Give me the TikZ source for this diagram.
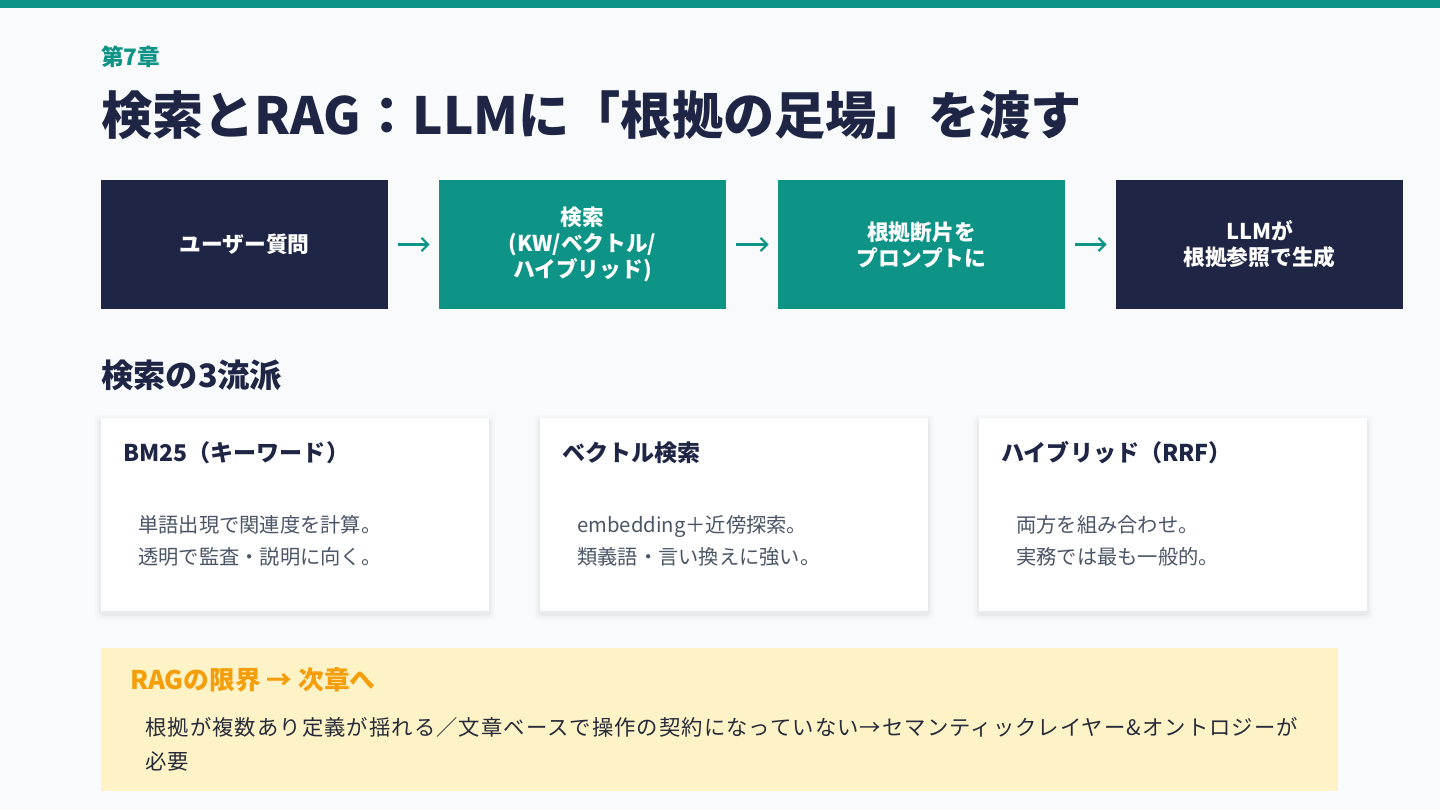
\documentclass[tikz,border=0pt]{standalone}
\usepackage{fontspec}
\setmainfont{Noto Sans CJK JP}
\newfontfamily\spacedjp{Noto Sans CJK JP}[LetterSpace=5]
\usetikzlibrary{arrows.meta}
\definecolor{bgc}{HTML}{F8FAFC}
\definecolor{tealc}{HTML}{0E9486}
\definecolor{navyc}{HTML}{1F2645}
\definecolor{bodyc}{HTML}{4B5567}
\definecolor{yelc}{HTML}{FEF3C6}
\definecolor{orc}{HTML}{F59E0B}
\definecolor{darkc}{HTML}{252B3A}
\tikzset{
  flowbox/.style={minimum width=215.25pt, minimum height=96.75pt, inner sep=0pt, text=white, align=center, font=\fontsize{16.3pt}{19.5pt}\selectfont\bfseries},
  navybox/.style={flowbox, fill=navyc},
  tealbox/.style={flowbox, fill=tealc},
  flowarrow/.style={draw=tealc, line width=1.6pt, -{Straight Barb[length=5pt,width=10pt,line width=1.6pt]}, shorten <=7.5pt, shorten >=6.75pt},
  card/.style={fill=white, minimum width=291pt, minimum height=144.75pt, inner sep=0pt},
  cardtitle/.style={anchor=west, inner sep=0pt, text=navyc, font=\fontsize{17.3pt}{20pt}\selectfont\bfseries},
  cardbody/.style={anchor=west, inner sep=0pt, text=bodyc, align=left, font=\fontsize{15.2pt}{24pt}\selectfont},
}
\begin{document}
\begin{tikzpicture}[x=0.75pt,y=-0.75pt]
\useasboundingbox (0,0) rectangle (1440,810);
\fill[bgc] (0,0) rectangle (1440,810);
\fill[tealc] (0,0) rectangle (1440,8);

\node[anchor=west, inner sep=0pt, text=tealc, font=\fontsize{17pt}{18pt}\selectfont\bfseries] (chap) at (101,57) {第7章};
\node[anchor=west, inner sep=0pt, text=navyc, font=\fontsize{38.4pt}{44pt}\selectfont\bfseries] (title) at (101,115) {検索とRAG：LLMに「根拠の足場」を渡す};

\node[navybox] (q) at (244.5,244.5) {ユーザー質問};
\node[tealbox] (s) at (582.5,244.5) {検索\\(KW/ベクトル/\\ハイブリッド)};
\node[tealbox] (p) at (921.5,244.5) {根拠断片を\\プロンプトに};
\node[navybox] (g) at (1259.5,244.5) {LLMが\\根拠参照で生成};
\draw[flowarrow] (q) -- (s);
\draw[flowarrow] (s) -- (p);
\draw[flowarrow] (p) -- (g);

\node[anchor=west, inner sep=0pt, text=navyc, font=\fontsize{24.2pt}{26pt}\selectfont\bfseries] (h3) at (101,375) {検索の3流派};

\foreach \cx in {295,734,1173}{
  \foreach \k/\op in {6/0.012,4/0.02,2/0.03}{
    \fill[black, opacity=\op, rounded corners=3pt] (\cx-194-\k,418-\k+3) rectangle (\cx+194+\k,611+\k+3);
  }
}
\node[card] (c1) at (295,514.5) {};
\node[card] (c2) at (734,514.5) {};
\node[card] (c3) at (1173,514.5) {};

\node[cardtitle] (c1t) at (123,453) {BM25（キーワード）};
\node[cardbody] (c1b) at (138,541) {単語出現で関連度を計算。\\透明で監査・説明に向く。};
\node[cardtitle] (c2t) at (562,453) {ベクトル検索};
\node[cardbody] (c2b) at (577,541) {embedding＋近傍探索。\\類義語・言い換えに強い。};
\node[cardtitle] (c3t) at (1001,453) {ハイブリッド（RRF）};
\node[cardbody] (c3b) at (1016,541) {両方を組み合わせ。\\実務では最も一般的。};

\fill[yelc] (101,648) rectangle (1338,791);
\node[anchor=west, inner sep=0pt, text=orc, font=\fontsize{19.3pt}{20pt}\selectfont\bfseries] (lt) at (130,680) {RAGの限界 → 次章へ};
\node[anchor=west, inner sep=0pt, text=darkc, align=left, font=\spacedjp\fontsize{16pt}{25.5pt}\selectfont] (lb) at (145,744) {根拠が複数あり定義が揺れる／文章ベースで操作の契約になっていない→セマンティックレイヤー\&オントロジーが\\必要};
\end{tikzpicture}
\end{document}
